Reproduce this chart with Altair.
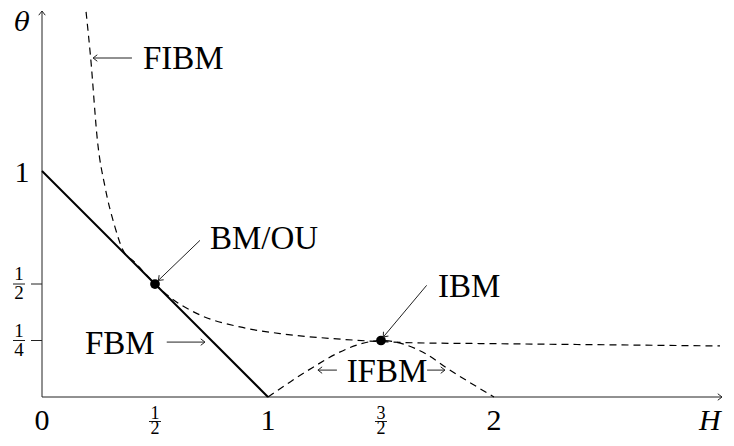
import math
import altair as alt
import pandas as pd

# ---------------- data ----------------
fibm_H = [0.195, 0.215, 0.246, 0.279, 0.323, 0.358, 0.412, 0.45, 0.5, 0.566, 0.699,
          0.876, 1.066, 1.305, 1.5, 1.64, 2.0, 2.5, 3.0]
fibm_T = [1.704, 1.504, 1.128, 0.929, 0.752, 0.650, 0.595, 0.553, 0.5, 0.442, 0.363,
          0.310, 0.279, 0.257, 0.245, 0.240, 0.236, 0.231, 0.226]

ifbm_H = [1.0, 1.1, 1.2, 1.3, 1.4, 1.5, 1.6, 1.7, 1.8, 1.9, 2.0]
ifbm_T = [0.0, 0.068, 0.132, 0.19, 0.232, 0.25, 0.234, 0.19, 0.122, 0.06, 0.0]

fbm_H = [0.0, 1.0]
fbm_T = [1.0, 0.0]

dot_H = [0.5, 1.5]
dot_T = [0.5, 0.25]

x_int_ticks = [0, 1, 2]
x_int_labels = ["0", "1", "2"]
x_frac_ticks = [0.5, 1.5]
x_frac_num = ["1", "3"]
x_frac_den = ["2", "2"]

y_int_ticks = [1]
y_int_labels = ["1"]
y_frac_ticks = [0.5, 0.25]
y_frac_num = ["1", "1"]
y_frac_den = ["2", "4"]

ann_text = ["FIBM", "BM/OU", "IBM", "FBM", "IFBM"]
ann_H = [0.447, 0.743, 1.752, 0.190, 1.348]
ann_T = [1.451, 0.655, 0.442, 0.190, 0.066]

# arrows: tail -> tip
arr_H1 = [0.398, 0.699, 1.702, 0.552, 1.305, 1.704]
arr_T1 = [1.5, 0.693, 0.494, 0.243, 0.119, 0.119]
arr_H2 = [0.226, 0.515, 1.510, 0.721, 1.221, 1.783]
arr_T2 = [1.5, 0.516, 0.265, 0.243, 0.119, 0.119]

H_MAX = 3.009
T_MAX = 1.708

# ---------------- chart ----------------
SERIF = "Liberation Serif"
xs = alt.Scale(domain=[0, H_MAX], nice=False, zero=False)
ys = alt.Scale(domain=[0, T_MAX], nice=False, zero=False)
X = alt.X("H:Q", scale=xs, axis=None)
Y = alt.Y("T:Q", scale=ys, axis=None)
HEAD = "M-1.3,-1L0,0L-1.3,1"

def ang(h1, t1, h2, t2):
    return math.degrees(math.atan2(-(t2 - t1), (h2 - h1)))

axes_df = pd.DataFrame({"H": [0, 0], "T": [0, 0], "H2": [H_MAX, 0], "T2": [0, T_MAX]})
axes = alt.Chart(axes_df).mark_rule(color="#222", strokeWidth=1).encode(
    x=X, y=Y, x2="H2:Q", y2="T2:Q")
axes_heads_df = pd.DataFrame({"H": [H_MAX, 0], "T": [0, T_MAX], "ang": [0, 270]})
axes_heads = alt.Chart(axes_heads_df).mark_point(
    shape=HEAD, filled=False, size=42, strokeWidth=1, color="#222", opacity=1
).encode(x=X, y=Y, angle=alt.Angle("ang:Q", scale=None))

fibm = alt.Chart(pd.DataFrame({"H": fibm_H, "T": fibm_T})).mark_line(
    color="black", strokeWidth=1.2, strokeDash=[7, 5], interpolate="monotone").encode(x=X, y=Y)
ifbm = alt.Chart(pd.DataFrame({"H": ifbm_H, "T": ifbm_T})).mark_line(
    color="black", strokeWidth=1.2, strokeDash=[7, 5], interpolate="monotone").encode(x=X, y=Y)
fbm = alt.Chart(pd.DataFrame({"H": fbm_H, "T": fbm_T})).mark_line(
    color="black", strokeWidth=2).encode(x=X, y=Y)
dots = alt.Chart(pd.DataFrame({"H": dot_H, "T": dot_T})).mark_circle(
    color="black", size=95, opacity=1).encode(x=X, y=Y)

# y ticks (short marks left of the axis)
ytick_df = pd.DataFrame({"H": [0] * len(y_frac_ticks), "T": y_frac_ticks})
yticks = alt.Chart(ytick_df).mark_rule(color="#222", strokeWidth=1, xOffset=-11, x2Offset=0).encode(
    x=X, x2="H:Q", y=Y)

# tick labels
xint = alt.Chart(pd.DataFrame({"H": x_int_ticks, "T": [0] * 3, "lab": x_int_labels})).mark_text(
    font=SERIF, fontSize=30, baseline="alphabetic", align="center", dy=33, color="black").encode(
    x=X, y=Y, text="lab:N")
xfrac_df = pd.DataFrame({"H": x_frac_ticks, "T": [0] * 2, "num": x_frac_num, "den": x_frac_den})
xnum = alt.Chart(xfrac_df).mark_text(font=SERIF, fontSize=18, baseline="alphabetic", align="center",
                                     dy=22, color="black").encode(x=X, y=Y, text="num:N")
xden = alt.Chart(xfrac_df).mark_text(font=SERIF, fontSize=18, baseline="alphabetic", align="center",
                                     dy=37, color="black").encode(x=X, y=Y, text="den:N")
xbar = alt.Chart(xfrac_df).mark_rule(color="black", strokeWidth=0.9, xOffset=-6, x2Offset=6,
                                     yOffset=24.5).encode(x=X, x2="H:Q", y=Y)

yint = alt.Chart(pd.DataFrame({"H": [0], "T": y_int_ticks, "lab": y_int_labels})).mark_text(
    font=SERIF, fontSize=30, baseline="alphabetic", align="center", dx=-20, dy=11, color="black").encode(
    x=X, y=Y, text="lab:N")
yfrac_df = pd.DataFrame({"H": [0] * 2, "T": y_frac_ticks, "num": y_frac_num, "den": y_frac_den})
ynum = alt.Chart(yfrac_df).mark_text(font=SERIF, fontSize=19, baseline="alphabetic", align="center",
                                     dx=-23, dy=-4, color="black").encode(x=X, y=Y, text="num:N")
yden = alt.Chart(yfrac_df).mark_text(font=SERIF, fontSize=19, baseline="alphabetic", align="center",
                                     dx=-23, dy=15, color="black").encode(x=X, y=Y, text="den:N")
ybar = alt.Chart(yfrac_df).mark_rule(color="black", strokeWidth=0.9, xOffset=-29, x2Offset=-17,
                                     yOffset=0).encode(x=X, x2="H:Q", y=Y)

# axis titles
ttl = alt.Chart(pd.DataFrame({"H": [-0.088], "T": [1.62], "lab": ["θ"]})).mark_text(
    font="DejaVu Serif", fontStyle="italic", fontSize=26, baseline="alphabetic", align="center",
    color="black").encode(x=X, y=Y, text="lab:N")
htl = alt.Chart(pd.DataFrame({"H": [2.955], "T": [-0.145], "lab": ["H"]})).mark_text(
    font=SERIF, fontStyle="italic", fontSize=30, baseline="alphabetic", align="center",
    color="black").encode(x=X, y=Y, text="lab:N")

# annotations
ann = alt.Chart(pd.DataFrame({"H": ann_H, "T": ann_T, "lab": ann_text})).mark_text(
    font=SERIF, fontSize=33, baseline="alphabetic", align="left", color="black").encode(
    x=X, y=Y, text="lab:N")
arr_df = pd.DataFrame({"H": arr_H1, "T": arr_T1, "H2": arr_H2, "T2": arr_T2})
arr_lines = alt.Chart(arr_df).mark_rule(color="#222", strokeWidth=1).encode(
    x=X, y=Y, x2="H2:Q", y2="T2:Q")
head_df = pd.DataFrame({"H": arr_H2, "T": arr_T2,
                        "ang": [ang(a, b, c, d) for a, b, c, d in zip(arr_H1, arr_T1, arr_H2, arr_T2)]})
arr_heads = alt.Chart(head_df).mark_point(
    shape=HEAD, filled=False, size=42, strokeWidth=1, color="#222", opacity=1
).encode(x=X, y=Y, angle=alt.Angle("ang:Q", scale=None))

chart = alt.layer(
    axes, axes_heads, yticks, fibm, ifbm, fbm, dots,
    xint, xnum, xden, xbar, yint, ynum, yden, ybar, ttl, htl,
    ann, arr_lines, arr_heads
).properties(
    width=680, height=386,
    autosize=alt.AutoSizeParams(type="none"),
    padding={"left": 34, "top": 3, "right": 4, "bottom": 41},
    background="white",
).configure_view(stroke=None)

chart.save("out.html", embed_options={"renderer": "svg", "actions": False})
